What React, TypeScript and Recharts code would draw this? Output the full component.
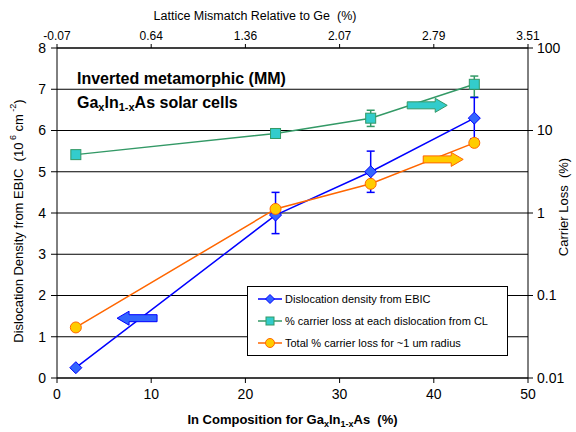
import {
  LineChart,
  Line,
  XAxis,
  YAxis,
  CartesianGrid,
  ErrorBar,
  Legend,
  ReferenceDot,
} from "recharts";

// In composition (%) for GaxIn1-xAs
const inComposition = [2, 23.2, 33.3, 44.3];
// dislocation density from EBIC (10^6 cm^-2), left axis
const dislocationDensity = [0.25, 3.95, 5.0, 6.3];
const dislocationErr = [null, [0.45, 0.55], [0.5, 0.5], [0.5, 0.5]];
// % carrier loss at each dislocation from CL, right (log) axis
const carrierLossCL = [5.1, 9.2, 14.1, 36.3];
const carrierLossErr = [null, null, [2.9, 3.5], [10.9, 9.4]];
// total % carrier loss for ~1 um radius, right (log) axis
const totalCarrierLoss = [0.041, 1.12, 2.26, 7.08];

const bottomTicks = [0, 10, 20, 30, 40, 50];
const latticeMismatchLabels = ["-0.07", "0.64", "1.36", "2.07", "2.79", "3.51"];
const leftTicks = [0, 1, 2, 3, 4, 5, 6, 7, 8];
const rightTicks = [0.01, 0.1, 1, 10, 100];

const seriesNames = [
  "Dislocation density from EBIC",
  "% carrier loss at each dislocation from CL",
  "Total % carrier loss for ~1 um radius",
];

const data = inComposition.map((x, i) => ({
  x,
  dislocation: dislocationDensity[i],
  dislocationErr: dislocationErr[i],
  cl: carrierLossCL[i],
  clErr: carrierLossErr[i],
  total: totalCarrierLoss[i],
}));

const FONT = '"Liberation Sans", Arial, sans-serif';

const BLUE = "#0000FF";
const BLUE_FILL = "#3366FF";
const GREEN = "#339966";
const GREEN_FILL = "#33CCCC";
const ORANGE = "#FF6600";
const ORANGE_FILL = "#FFCC00";

const Diamond = ({ cx, cy, s = 6 }: any) => (
  <path
    d={`M${cx},${cy - s} L${cx + s},${cy} L${cx},${cy + s} L${cx - s},${cy} Z`}
    fill={BLUE_FILL}
    stroke={BLUE}
    strokeWidth={1}
  />
);

const Square = ({ cx, cy, s = 5 }: any) => (
  <rect
    x={cx - s}
    y={cy - s}
    width={s * 2}
    height={s * 2}
    fill={GREEN_FILL}
    stroke={GREEN}
    strokeWidth={1}
  />
);

const Circle = ({ cx, cy, r = 5.5 }: any) => (
  <circle cx={cx} cy={cy} r={r} fill={ORANGE_FILL} stroke={ORANGE} strokeWidth={1} />
);

const arrowShape = (cx: number, cy: number, dir: number, fill: string, stroke: string) => {
  const len = 40;
  const headLen = 12;
  const shaft = 3.5;
  const head = 7;
  const tail = cx - (dir * len) / 2;
  const tip = cx + (dir * len) / 2;
  const neck = tip - dir * headLen;
  const d = `M${tail},${cy - shaft} L${neck},${cy - shaft} L${neck},${cy - head} L${tip},${cy} L${neck},${cy + head} L${neck},${cy + shaft} L${tail},${cy + shaft} Z`;
  return <path d={d} fill={fill} stroke={stroke} strokeWidth={1} />;
};

const renderLegend = () => {
  const icons = [
    (cx: number, cy: number) => <Diamond cx={cx} cy={cy} s={4.5} />,
    (cx: number, cy: number) => <Square cx={cx} cy={cy} s={4} />,
    (cx: number, cy: number) => <Circle cx={cx} cy={cy} r={4.5} />,
  ];
  const colors = [BLUE, GREEN, ORANGE];
  return (
    <div
      style={{
        border: "1px solid #000",
        background: "#fff",
        padding: "1px 0 0 0",
        height: 70,
        boxSizing: "border-box",
      }}
    >
      {seriesNames.map((name, i) => (
        <div
          key={`legend-${i}`}
          style={{
            display: "flex",
            alignItems: "center",
            height: 22,
            fontFamily: FONT,
            fontSize: 11,
            whiteSpace: "nowrap",
          }}
        >
          <svg width={26} height={14} style={{ marginLeft: 9 }}>
            <line x1={1} y1={7} x2={25} y2={7} stroke={colors[i]} strokeWidth={1.5} />
            {icons[i](13, 7)}
          </svg>
          <span style={{ color: "#000", marginLeft: 2 }}>{name}</span>
        </div>
      ))}
    </div>
  );
};

export default function App() {
  return (
    <div style={{ position: "absolute", left: 0, top: 0, width: 576, height: 432, background: "#fff" }}>
      <LineChart width={576} height={432} data={data} margin={{ top: 0, right: 0, bottom: 0, left: 0 }}>
        <CartesianGrid
          xAxisId="bottom"
          yAxisId="left"
          vertical={false}
          stroke="#000"
          strokeWidth={1}
        />
        <XAxis
          xAxisId="bottom"
          type="number"
          dataKey="x"
          domain={[0, 50]}
          ticks={bottomTicks}
          height={54}
          tickSize={5}
          tickMargin={6}
          stroke="#000"
          tick={{ fill: "#000", fontSize: 14, fontFamily: FONT }}
          label={(p: any) => {
            const vb = p.viewBox;
            return (
              <text
                x={vb.x + vb.width / 2}
                y={vb.y + 46}
                textAnchor="middle"
                fontFamily={FONT}
                fontSize={13}
                fontWeight="bold"
                fill="#000"
                style={{ whiteSpace: "pre" }}
              >
                In Composition for Ga<tspan fontSize={9} dy={3}>x</tspan>
                <tspan dy={-3}>In</tspan>
                <tspan fontSize={9} dy={3}>1-x</tspan>
                <tspan dy={-3}>As  (%)</tspan>
              </text>
            );
          }}
        />
        <XAxis
          xAxisId="top"
          orientation="top"
          type="number"
          dataKey="x"
          domain={[0, 50]}
          ticks={bottomTicks}
          tickFormatter={(v: number) => latticeMismatchLabels[bottomTicks.indexOf(v)]}
          height={48}
          tickSize={4}
          tickMargin={4}
          stroke="#000"
          tick={{ fill: "#000", fontSize: 12, fontFamily: FONT }}
          label={() => (
            <text
              x={255}
              y={20}
              textAnchor="middle"
              fontFamily={FONT}
              fontSize={12.5}
              fill="#000"
              style={{ whiteSpace: "pre" }}
            >
              Lattice Mismatch Relative to Ge  (%)
            </text>
          )}
        />
        <YAxis
          yAxisId="left"
          type="number"
          domain={[0, 8]}
          ticks={leftTicks}
          width={57}
          tickSize={6}
          tickMargin={5}
          stroke="#000"
          tick={{ fill: "#000", fontSize: 14, fontFamily: FONT }}
          label={(p: any) => {
            const vb = p.viewBox;
            const x = 18;
            const y = vb.y + vb.height / 2 + 8;
            return (
              <text
                x={x}
                y={y}
                transform={`rotate(-90, ${x}, ${y})`}
                textAnchor="middle"
                dominantBaseline="central"
                fontFamily={FONT}
                fontSize={13}
                fill="#000"
                style={{ whiteSpace: "pre" }}
              >
                Dislocation Density from EBIC  (10
                <tspan fontSize={9} dy={-5}> 6</tspan>
                <tspan dy={5}> cm</tspan>
                <tspan fontSize={9} dy={-5}> -2</tspan>
                <tspan dy={5}>)</tspan>
              </text>
            );
          }}
        />
        <YAxis
          yAxisId="right"
          orientation="right"
          type="number"
          scale="log"
          domain={[0.01, 100]}
          ticks={rightTicks}
          allowDataOverflow
          width={48}
          tickSize={5}
          tickMargin={4}
          stroke="#000"
          tick={{ fill: "#000", fontSize: 14, fontFamily: FONT }}
          label={(p: any) => {
            const vb = p.viewBox;
            const x = 563;
            const y = vb.y + vb.height / 2 - 6;
            return (
              <text
                x={x}
                y={y}
                transform={`rotate(-90, ${x}, ${y})`}
                textAnchor="middle"
                dominantBaseline="central"
                fontFamily={FONT}
                fontSize={13}
                fill="#000"
                style={{ whiteSpace: "pre" }}
              >
                Carrier Loss  (%)
              </text>
            );
          }}
        />

        <Line
          xAxisId="bottom"
          yAxisId="right"
          dataKey="cl"
          name={seriesNames[1]}
          stroke={GREEN}
          strokeWidth={1.5}
          isAnimationActive={false}
          dot={(p: any) => <Square key={`sq-${p.index}`} cx={p.cx} cy={p.cy} />}
          activeDot={false}
        >
          <ErrorBar dataKey="clErr" direction="y" width={4} stroke={GREEN} strokeWidth={1.5} />
        </Line>
        <Line
          xAxisId="bottom"
          yAxisId="left"
          dataKey="dislocation"
          name={seriesNames[0]}
          stroke={BLUE}
          strokeWidth={1.5}
          isAnimationActive={false}
          dot={(p: any) => <Diamond key={`dm-${p.index}`} cx={p.cx} cy={p.cy} />}
          activeDot={false}
        >
          <ErrorBar dataKey="dislocationErr" direction="y" width={4} stroke={BLUE} strokeWidth={1.5} />
        </Line>
        <Line
          xAxisId="bottom"
          yAxisId="right"
          dataKey="total"
          name={seriesNames[2]}
          stroke={ORANGE}
          strokeWidth={1.5}
          isAnimationActive={false}
          dot={(p: any) => <Circle key={`ci-${p.index}`} cx={p.cx} cy={p.cy} />}
          activeDot={false}
        />

        {/* pointer arrows showing which axis each series belongs to */}
        <ReferenceDot
          xAxisId="bottom"
          yAxisId="left"
          x={8.5}
          y={1.45}
          shape={(p: any) => arrowShape(p.cx, p.cy, -1, BLUE_FILL, BLUE)}
        />
        <ReferenceDot
          xAxisId="bottom"
          yAxisId="left"
          x={39.3}
          y={6.61}
          shape={(p: any) => arrowShape(p.cx, p.cy, 1, GREEN_FILL, GREEN)}
        />
        <ReferenceDot
          xAxisId="bottom"
          yAxisId="left"
          x={41.0}
          y={5.3}
          shape={(p: any) => arrowShape(p.cx, p.cy, 1, ORANGE_FILL, ORANGE)}
        />

        <Legend
          layout="vertical"
          align="center"
          verticalAlign="middle"
          content={renderLegend}
          wrapperStyle={{ left: 247, top: 286, width: 261, height: 70 }}
        />
      </LineChart>

      <div
        style={{
          position: "absolute",
          left: 77,
          top: 67,
          fontFamily: FONT,
          fontSize: 16,
          fontWeight: "bold",
          lineHeight: "24px",
          color: "#000",
          pointerEvents: "none",
        }}
      >
        <div>Inverted metamorphic (MM)</div>
        <div>
          Ga<sub style={{ fontSize: 11, verticalAlign: "-3px", lineHeight: 0 }}>x</sub>In
          <sub style={{ fontSize: 11, verticalAlign: "-3px", lineHeight: 0 }}>1-x</sub>As solar cells
        </div>
      </div>
    </div>
  );
}
